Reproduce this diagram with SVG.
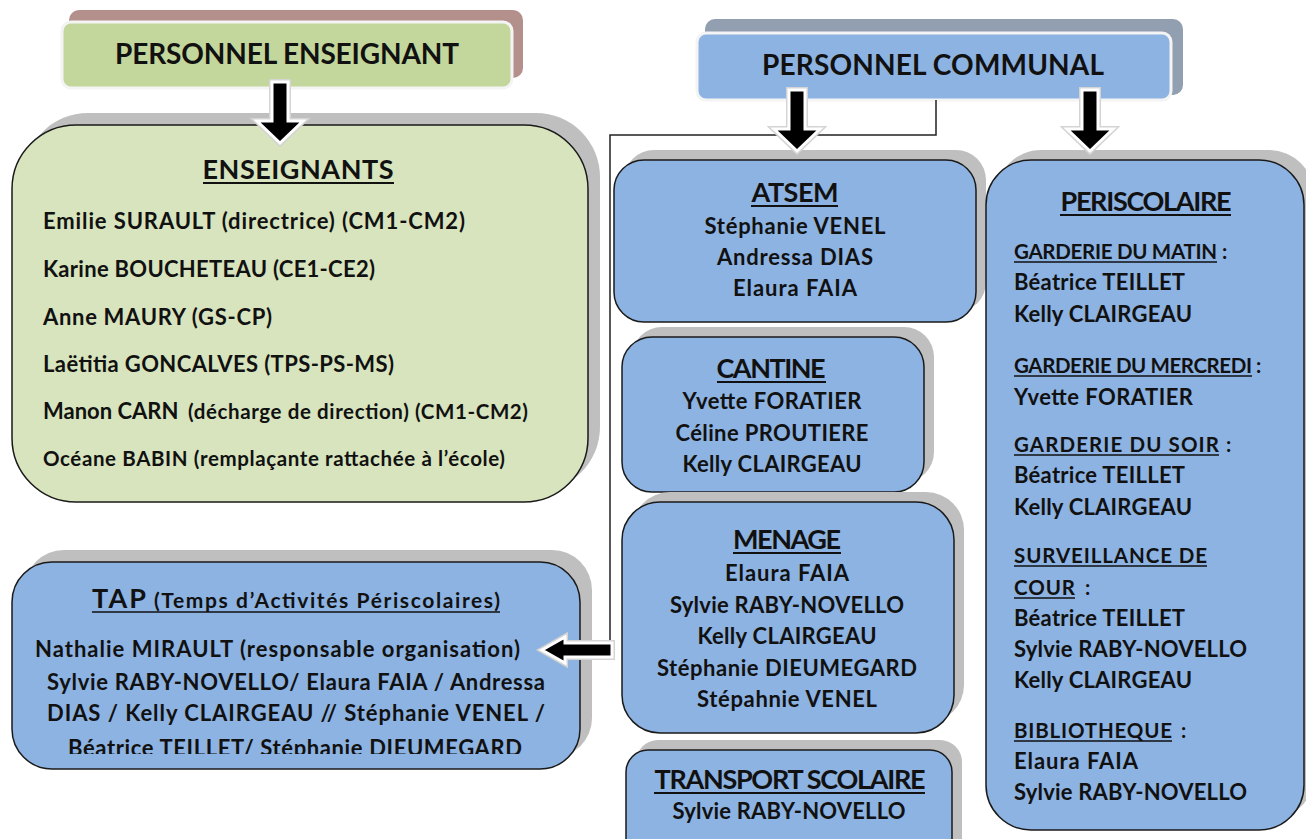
<svg xmlns="http://www.w3.org/2000/svg" width="1306" height="839" viewBox="0 0 1306 839">
<style>
text{font-family:Lato,"Open Sans","Liberation Sans",sans-serif;font-weight:bold;fill:#111;}
.h{font-size:28px;text-anchor:middle;}
.t{font-size:27px;text-anchor:middle;}
.n{font-size:22px;}
.c{font-size:22px;text-anchor:middle;}
.m{font-size:20.5px;}
.s{font-size:20.5px;}
.ul{stroke:#111;stroke-width:2;}
.uls{stroke:#111;stroke-width:1.5;}
.box{stroke:#1a1a1a;stroke-width:1.5;}
.sh{fill:#bfbfbf;}
.green{fill:#d7e4bd;}
.blue{fill:#8db3e2;}
.arr{fill:#000;stroke:#fff;stroke-width:3;stroke-linejoin:miter;}
.arrg{fill:none;stroke:#d4d4d4;stroke-width:6;}
.line{fill:none;stroke:#222;stroke-width:1.5;}
</style>
<defs>
<polygon id="down" points="-8,0 8,0 8,39 23,39 0,61 -23,39 -8,39"/>
<polygon id="left" points="0,0 23,-13 23,-7 70,-7 70,7 23,7 23,13"/>
<clipPath id="tapclip"><rect x="0" y="560" width="600" height="194"/></clipPath>
</defs>

<g id="personnel-enseignant">
<rect x="69" y="10" width="454" height="68" rx="10" fill="#b3908c"/>
<rect x="62" y="22" width="450" height="66" rx="9" fill="#c3d69b" stroke="#f4f4f4" stroke-width="3"/>
<text class="h" x="287" y="64" textLength="344">PERSONNEL ENSEIGNANT</text>
</g>

<g id="personnel-communal">
<rect x="705" y="19" width="478" height="76" rx="10" fill="#929fb1"/>
<rect x="697" y="33" width="474" height="67" rx="9" fill="#8db3e2" stroke="#f4f4f4" stroke-width="3"/>
<text class="h" x="933" y="75" textLength="342">PERSONNEL COMMUNAL</text>
</g>

<g id="enseignants">
<rect class="sh" x="24" y="113" width="576" height="378" rx="64"/>
<rect class="box green" x="12" y="125" width="576" height="377" rx="64"/>
<text class="t" x="298" y="179" textLength="191">ENSEIGNANTS</text>
<line class="ul" x1="203" y1="183" x2="394" y2="183"/>
<text class="n" x="43" y="229" textLength="422">Emilie SURAULT (directrice) (CM1-CM2)</text>
<text class="n" x="43" y="277" textLength="332">Karine BOUCHETEAU (CE1-CE2)</text>
<text class="n" x="43" y="325" textLength="229">Anne MAURY (GS-CP)</text>
<text class="n" x="43" y="372" textLength="351">Laëtitia GONCALVES (TPS-PS-MS)</text>
<text class="n" x="43" y="419">Manon CARN</text>
<text class="m" x="188" y="419" textLength="340">(décharge de direction) (CM1-CM2)</text>
<text class="m" x="43" y="466" textLength="462">Océane BABIN (remplaçante rattachée à l’école)</text>
</g>

<g id="tap">
<rect class="sh" x="24" y="550" width="568" height="208" rx="40"/>
<rect class="box blue" x="12" y="562" width="568" height="207" rx="40"/>
<text x="92" y="608" font-size="27" textLength="54">TAP</text>
<text x="154" y="608" font-size="21" textLength="346">(Temps d’Activités Périscolaires)</text>
<line class="uls" x1="92" y1="612" x2="500" y2="612"/>
<g clip-path="url(#tapclip)">
<text class="n" x="35" y="657" textLength="485">Nathalie MIRAULT (responsable organisation)</text>
<text class="c" x="296" y="690" textLength="498">Sylvie RABY-NOVELLO/ Elaura FAIA / Andressa</text>
<text class="c" x="296" y="721" textLength="498">DIAS / Kelly CLAIRGEAU // Stéphanie VENEL /</text>
<text class="c" x="295" y="756" textLength="454">Béatrice TEILLET/ Stéphanie DIEUMEGARD</text>
</g>
</g>

<g id="atsem">
<rect class="sh" x="624" y="150" width="362" height="162" rx="30"/>
<rect class="box blue" x="614" y="160" width="362" height="162" rx="30"/>
<text class="t" x="795" y="202" font-size="26" textLength="87">ATSEM</text>
<line class="ul" x1="751" y1="206" x2="838" y2="206"/>
<text class="c" x="795" y="234" textLength="181">Stéphanie VENEL</text>
<text class="c" x="795" y="265" textLength="156">Andressa DIAS</text>
<text class="c" x="795" y="296" textLength="124">Elaura FAIA</text>
</g>

<g id="cantine">
<rect class="sh" x="632" y="327" width="302" height="155" rx="30"/>
<rect class="box blue" x="622" y="337" width="302" height="155" rx="30"/>
<text class="t" x="771" y="378" font-size="26" textLength="109">CANTINE</text>
<line class="ul" x1="717" y1="382" x2="826" y2="382"/>
<text class="c" x="772" y="409" textLength="179">Yvette FORATIER</text>
<text class="c" x="772" y="441" textLength="193">Céline PROUTIERE</text>
<text class="c" x="772" y="472" textLength="179">Kelly CLAIRGEAU</text>
</g>

<g id="menage">
<rect class="sh" x="632" y="492" width="332" height="231" rx="38"/>
<rect class="box blue" x="622" y="502" width="332" height="231" rx="38"/>
<text class="t" x="787" y="549" font-size="26" textLength="108">MENAGE</text>
<line class="ul" x1="733" y1="553" x2="841" y2="553"/>
<text class="c" x="787" y="581" textLength="124">Elaura FAIA</text>
<text class="c" x="787" y="613" textLength="234">Sylvie RABY-NOVELLO</text>
<text class="c" x="787" y="644" textLength="179">Kelly CLAIRGEAU</text>
<text class="c" x="787" y="676" textLength="260">Stéphanie DIEUMEGARD</text>
<text class="c" x="787" y="707" textLength="180">Stépahnie VENEL</text>
</g>

<g id="transport-scolaire">
<rect class="sh" x="636" y="740" width="326" height="130" rx="22"/>
<rect class="box blue" x="626" y="750" width="326" height="130" rx="22"/>
<text class="t" x="790" y="789" font-size="22" textLength="271">TRANSPORT SCOLAIRE</text>
<line class="ul" x1="654" y1="793" x2="925" y2="793"/>
<text class="c" x="789" y="819" textLength="233">Sylvie RABY-NOVELLO</text>
</g>

<g id="periscolaire">
<rect class="sh" x="996" y="150" width="318" height="670" rx="45"/>
<rect class="box blue" x="986" y="160" width="318" height="670" rx="45"/>
<text class="t" x="1146" y="211" font-size="26" textLength="171">PERISCOLAIRE</text>
<line class="ul" x1="1060" y1="215" x2="1231" y2="215"/>
<text class="s" x="1014" y="259" textLength="203">GARDERIE DU MATIN</text>
<text class="s" x="1222" y="259">:</text>
<line class="uls" x1="1014" y1="262" x2="1217" y2="262"/>
<text class="n" x="1014" y="290" textLength="171">Béatrice TEILLET</text>
<text class="n" x="1014" y="322" textLength="178">Kelly CLAIRGEAU</text>
<text class="s" x="1014" y="373" textLength="238">GARDERIE DU MERCREDI</text>
<text class="s" x="1256" y="373">:</text>
<line class="uls" x1="1014" y1="376" x2="1252" y2="376"/>
<text class="n" x="1014" y="405" textLength="179">Yvette FORATIER</text>
<text class="s" x="1014" y="452" textLength="205">GARDERIE DU SOIR</text>
<text class="s" x="1226" y="452">:</text>
<line class="uls" x1="1014" y1="455" x2="1219" y2="455"/>
<text class="n" x="1014" y="483" textLength="171">Béatrice TEILLET</text>
<text class="n" x="1014" y="515" textLength="178">Kelly CLAIRGEAU</text>
<text class="s" x="1014" y="563" textLength="193">SURVEILLANCE DE</text>
<line class="uls" x1="1014" y1="566" x2="1207" y2="566"/>
<text class="s" x="1014" y="595" textLength="61">COUR</text>
<text class="s" x="1085" y="595">:</text>
<line class="uls" x1="1014" y1="598" x2="1075" y2="598"/>
<text class="n" x="1014" y="626" textLength="171">Béatrice TEILLET</text>
<text class="n" x="1014" y="657" textLength="233">Sylvie RABY-NOVELLO</text>
<text class="n" x="1014" y="688" textLength="178">Kelly CLAIRGEAU</text>
<text class="s" x="1014" y="738" textLength="158">BIBLIOTHEQUE</text>
<text class="s" x="1181" y="738">:</text>
<line class="uls" x1="1014" y1="741" x2="1172" y2="741"/>
<text class="n" x="1014" y="769" textLength="124">Elaura FAIA</text>
<text class="n" x="1014" y="800" textLength="233">Sylvie RABY-NOVELLO</text>
</g>

<g id="connectors">
<polyline class="line" points="936,100 936,135 610,135 610,643"/>
<use href="#down" class="arrg" x="280" y="82"/>
<use href="#down" class="arr" x="280" y="82"/>
<use href="#down" class="arrg" x="797" y="90"/>
<use href="#down" class="arr" x="797" y="90"/>
<use href="#down" class="arrg" x="1090" y="90"/>
<use href="#down" class="arr" x="1090" y="90"/>
<use href="#left" class="arrg" x="542" y="650"/>
<use href="#left" class="arr" x="542" y="650"/>
</g>
</svg>
